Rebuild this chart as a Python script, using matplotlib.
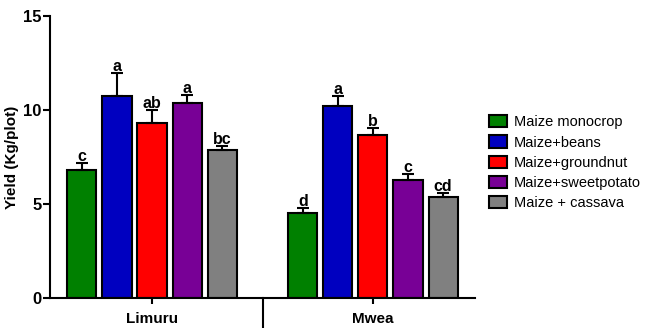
import matplotlib
matplotlib.use("Agg")
from matplotlib import pyplot as plt
import numpy as np

plt.rcParams['font.family'] = ['Liberation Sans', 'DejaVu Sans']

sites = ["Limuru", "Mwea"]
treatments = ["Maize monocrop", "Maize+beans", "Maize+groundnut", "Maize+sweetpotato", "Maize + cassava"]
colors = ["#008000", "#0000C0", "#FF0000", "#780096", "#808080"]

# yield means and standard errors, one list per site
limuru_yield = [6.8, 10.75, 9.3, 10.35, 7.85]
limuru_err = [0.4, 1.2, 0.7, 0.45, 0.25]
mwea_yield = [4.5, 10.2, 8.65, 6.3, 5.35]
mwea_err = [0.3, 0.55, 0.4, 0.3, 0.25]

limuru_letters = ["c", "a", "ab", "a", "bc"]
mwea_letters = ["d", "a", "b", "c", "cd"]

fig = plt.figure(figsize=(6.45, 3.28), dpi=100)
ax = fig.add_axes([0.0775, 0.0915, 0.6589, 0.8595])

group_start = [0.0, 6.3]
width = 0.83
all_yield = [limuru_yield, mwea_yield]
all_err = [limuru_err, mwea_err]
all_letters = [limuru_letters, mwea_letters]

for g in range(len(sites)):
    for i in range(len(treatments)):
        x = group_start[g] + i
        y = all_yield[g][i]
        e = all_err[g][i]
        ax.bar(x, y, width=width, color=colors[i], edgecolor="black", linewidth=1.5,
               label=treatments[i] if g == 0 else None, zorder=2)
        ax.errorbar(x, y, yerr=[[0], [e]], fmt="none", ecolor="black", elinewidth=1.5,
                    capsize=4, capthick=1.5, zorder=3)
        ax.text(x, y + e - 0.05, all_letters[g][i], ha="center", va="bottom",
                fontsize=11.5, fontweight="bold")

ax.set_ylim(0, 15)
ax.set_xlim(-0.91, 11.21)
ax.set_yticks([0, 5, 10, 15])
ax.set_xticks([g + 2 for g in group_start])
ax.set_xticklabels(sites, fontsize=11, fontweight="bold")
for lab in ax.get_yticklabels():
    lab.set_fontsize(12)
    lab.set_fontweight("bold")
ax.set_ylabel("Yield (Kg/plot)", fontsize=11, fontweight="bold", labelpad=3)

ax.spines["top"].set_visible(False)
ax.spines["right"].set_visible(False)
ax.spines["left"].set_linewidth(1.5)
ax.spines["bottom"].set_linewidth(1.5)
ax.tick_params(axis="y", direction="out", length=5, width=1.5, pad=1)
ax.tick_params(axis="x", direction="out", length=4, width=1.5, pad=6)

# group divider below the axis
ax.plot([5.17, 5.17], [0, -0.12], transform=ax.get_xaxis_transform(),
        color="black", linewidth=1.5, clip_on=False)

ax.legend(loc="center left", bbox_to_anchor=(1.01, 0.48), frameon=False, fontsize=10.5,
          handlelength=1.2, handleheight=0.9, handletextpad=0.5, labelspacing=0.42,
          borderaxespad=0.3)

plt.savefig("out.png", dpi=100)
